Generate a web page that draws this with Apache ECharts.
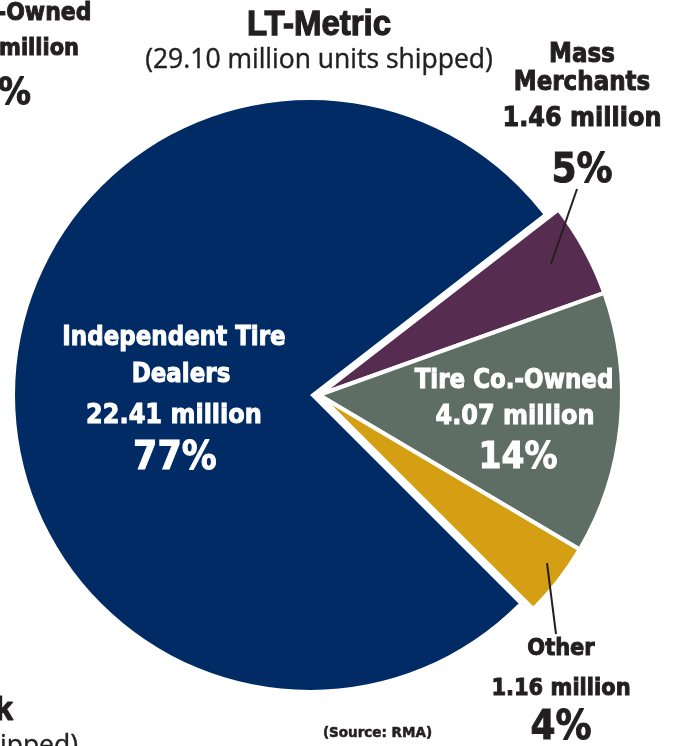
<!DOCTYPE html>
<html>
<head>
<meta charset="utf-8">
<title>LT-Metric shipments by channel</title>
<script src="https://cdn.jsdelivr.net/npm/echarts@6/dist/echarts.min.js"></script>
<style>
  html, body { margin: 0; padding: 0; background: #ffffff; }
  #chart { width: 678px; height: 746px; }
</style>
</head>
<body>
<div id="chart"></div>
<script>
// Light-truck metric tire shipments by distribution channel
const chartTitle = 'LT-Metric';
const totalShipped = 29.10; // million units
const segmentNames = ['Independent Tire Dealers', 'Mass Merchants', 'Tire Co.-Owned', 'Other'];
const segmentLabelLines = [['Independent Tire', 'Dealers'], ['Mass', 'Merchants'], ['Tire Co.-Owned'], ['Other']];
const unitsShipped = [22.41, 1.46, 4.07, 1.16]; // million units
const sharePercent = [77, 5, 14, 4];
const sliceColors = ['#002b64', '#562c51', '#5e6e65', '#d49f13'];
const sourceNote = '(Source: RMA)';

const DARK = '#231f20';
const LABEL_FONT = 'DejaVu Sans';

const chart = echarts.init(document.getElementById('chart'), null, { renderer: 'canvas' });

// The leading channel is drawn on its own; the three smaller channels are
// pulled out together as one block, shifted a little to the right.
function pieData(keepIndex) {
  return segmentNames.map((name, i) => ({
    name: name,
    value: unitsShipped[i],
    itemStyle: keepIndex(i)
      ? { color: sliceColors[i] }
      : { color: 'rgba(0,0,0,0)', borderWidth: 0 }
  }));
}

function textEl(text, x, y, size, fill, opts) {
  opts = opts || {};
  const family = opts.family || LABEL_FONT;
  const weight = opts.weight || 'bold';
  const align = opts.align || 'center';
  const heavy = opts.heavy === undefined ? (weight === 'bold') : opts.heavy;
  return {
    type: 'text',
    x: x,
    y: y,
    z: 100,
    scaleY: opts.stretch || 1,
    silent: true,
    style: {
      text: text,
      fill: fill,
      stroke: heavy ? fill : null,
      lineWidth: heavy ? (opts.strokeWidth || 0.9) : 0,
      font: weight + ' ' + size + 'px "' + family + '"',
      align: align,
      verticalAlign: 'middle',
      textAlign: align,
      textVerticalAlign: 'middle'
    }
  };
}

// Slice labels use a slightly tall, compact letterform
function segmentLabel(i, x, ys, sizes, fill, xs) {
  const lines = segmentLabelLines[i].concat([
    unitsShipped[i].toFixed(2) + ' million',
    sharePercent[i] + '%'
  ]);
  return lines.map((t, k) => textEl(t, xs ? xs[k] : x, ys[k], sizes[k], fill, { stretch: 1.12 }));
}

const graphics = [
  // heading
  textEl(chartTitle, 319, 25, 33, DARK, { family: 'Liberation Sans', strokeWidth: 1.2, stretch: 1.05 }),
  textEl('(' + totalShipped.toFixed(2) + ' million units shipped)', 319, 60, 26.5, DARK,
    { family: 'Open Sans', weight: 'normal', heavy: true, strokeWidth: 0.4 }),

  // leader lines for the two thin slices
  { type: 'line', z: 100, silent: true, shape: { x1: 577, y1: 189, x2: 551, y2: 264 },
    style: { stroke: DARK, lineWidth: 2 } },
  { type: 'line', z: 100, silent: true, shape: { x1: 547, y1: 563, x2: 556, y2: 634 },
    style: { stroke: DARK, lineWidth: 2 } },

  // source
  textEl(sourceNote, 377.5, 733, 13.5, DARK, { strokeWidth: 0.5, stretch: 1.1 }),

  // neighbouring panel text at the page edge
  textEl('-Owned', -3, 14, 22, DARK, { align: 'left', stretch: 1.12 }),
  textEl('million', -1, 49, 21, DARK, { align: 'left', stretch: 1.12 }),
  textEl('%', -2, 94, 33, DARK, { align: 'left', stretch: 1.12 }),
  textEl('k', 13, 711, 33, DARK, { family: 'Liberation Sans', align: 'right', strokeWidth: 1.2 }),
  textEl('shipped)', 78, 746, 26.5, DARK,
    { family: 'Open Sans', weight: 'normal', align: 'right', heavy: true, strokeWidth: 0.4 })
]
  .concat(segmentLabel(0, 176, [338, 375.5, 416.5, 459], [23, 23, 24, 35], '#ffffff',
    [174, 181, 174, 175]))
  .concat(segmentLabel(1, 582, [55, 83, 119, 172], [23, 23, 24, 36], DARK))
  .concat(segmentLabel(2, 515, [381.5, 417, 458], [23, 24, 33], '#ffffff',
    [514, 515, 518]))
  .concat(segmentLabel(3, 561, [649, 689, 728.5], [21, 21, 36], DARK));

const commonPie = {
  type: 'pie',
  startAngle: 315,
  clockwise: true,
  silent: true,
  animation: false,
  avoidLabelOverlap: false,
  label: { show: false },
  labelLine: { show: false },
  emphasis: { disabled: true }
};

chart.setOption({
  backgroundColor: '#ffffff',
  animation: false,
  series: [
    Object.assign({}, commonPie, {
      name: 'main',
      z: 1,
      center: [310, 395],
      radius: 295,
      data: pieData(i => i === 0)
    }),
    Object.assign({}, commonPie, {
      name: 'pulled',
      z: 2,
      center: [319, 395],
      radius: 303,
      itemStyle: { borderColor: '#ffffff', borderWidth: 4 },
      data: pieData(i => i !== 0)
    })
  ],
  graphic: graphics
});
</script>
</body>
</html>
